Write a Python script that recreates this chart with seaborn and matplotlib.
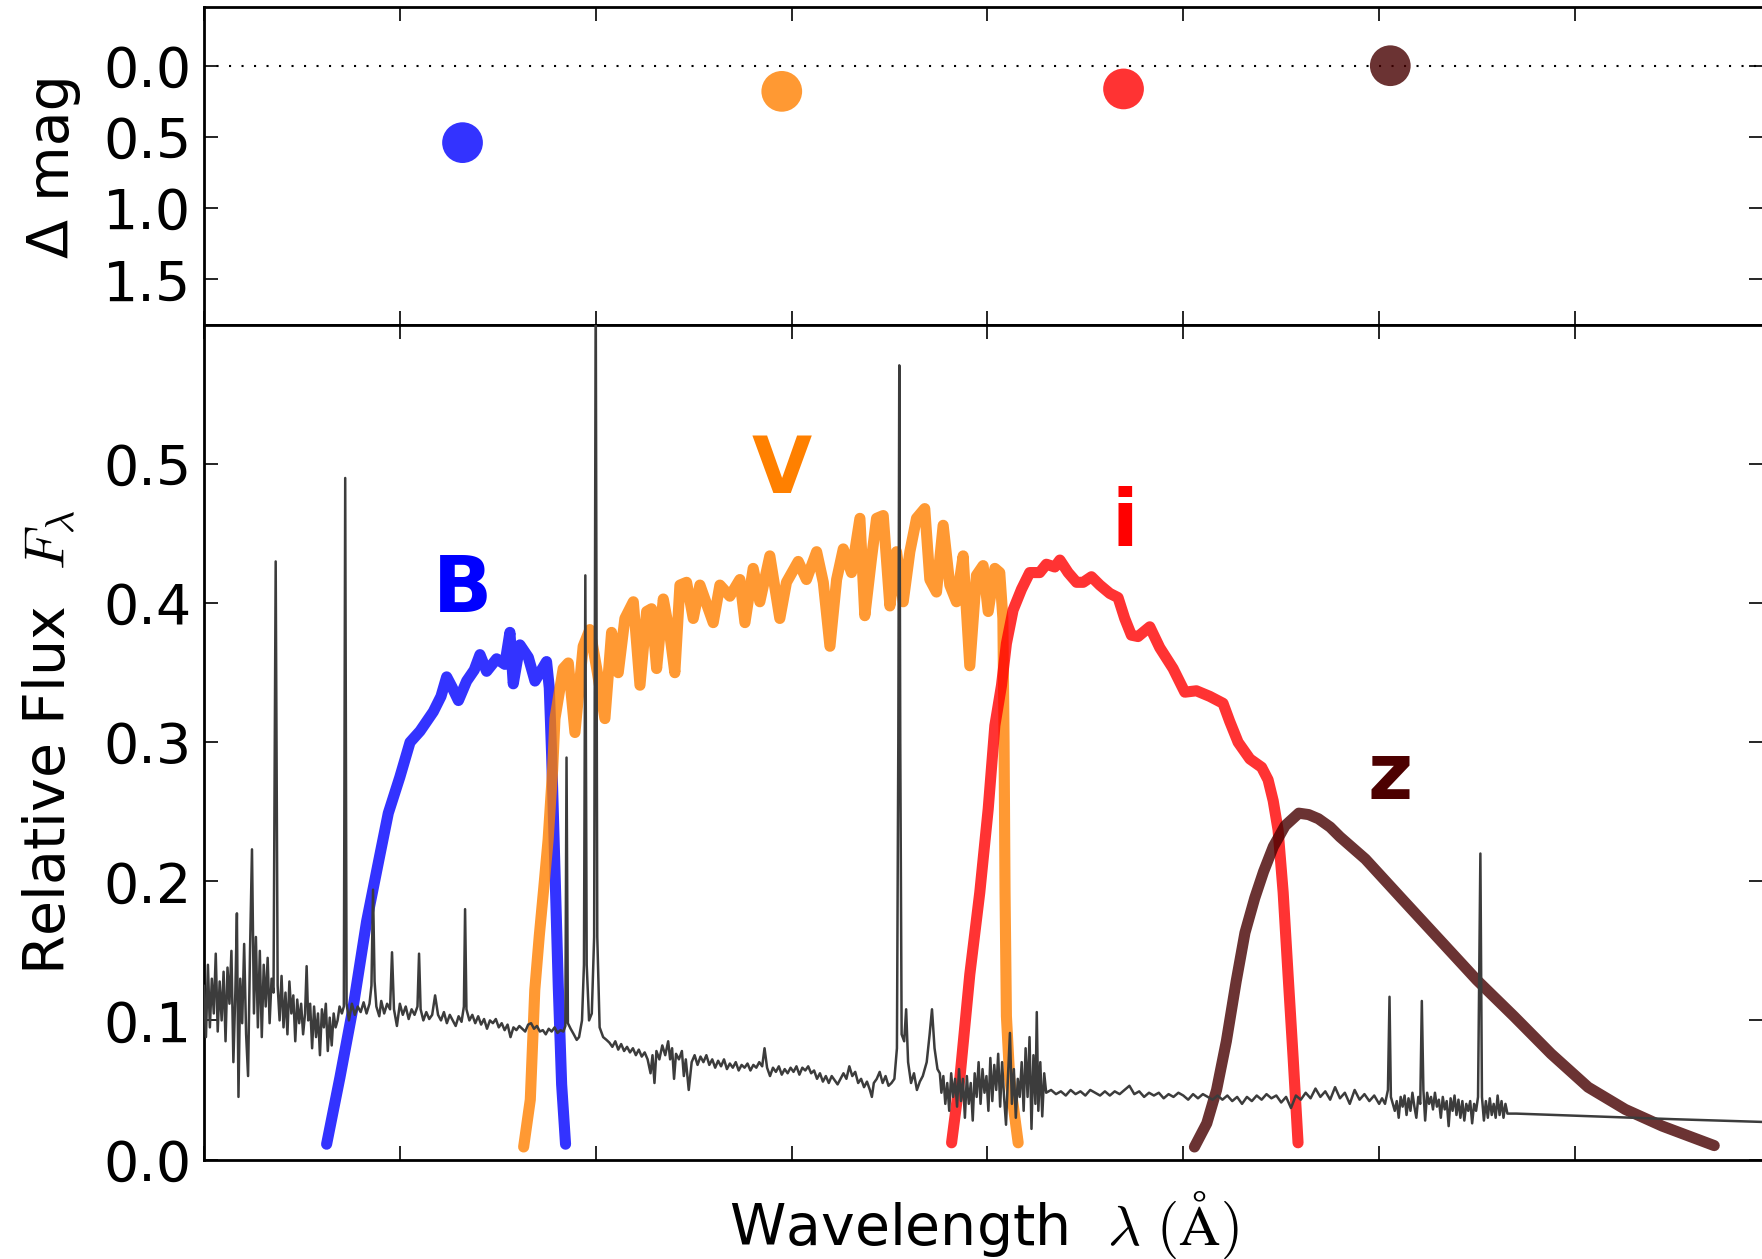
import numpy as np
import pandas as pd
import matplotlib
matplotlib.use("Agg")
import matplotlib.pyplot as plt
from matplotlib.ticker import FormatStrFormatter
import seaborn as sns

# ---------------- data ----------------
bands = ["B", "V", "i", "z"]
band_line_colors = {"B": "#0000ff", "V": "#ff8000", "i": "#ff0000", "z": "#460000"}
band_text_colors = {"B": "#0000ff", "V": "#ff8000", "i": "#ff0000", "z": "#4d0000"}

# top panel: magnitude offsets
mag_wave = [4320, 5950, 7695, 9057]
mag_delta = [0.54, 0.18, 0.163, 0.0]

# filter transmission curves (wavelength, relative flux)
B_wave = [3626, 3694, 3762, 3830, 3898, 3941, 4000, 4052, 4103, 4171, 4210, 4239, 4265, 4299,
          4341, 4380, 4409, 4443, 4494, 4536, 4562, 4579, 4613, 4656, 4690, 4715, 4749, 4763,
          4775, 4792, 4809, 4826, 4846]
B_flux = [0.011, 0.059, 0.110, 0.171, 0.219, 0.249, 0.275, 0.300, 0.308, 0.322, 0.333, 0.347, 0.340, 0.330,
          0.344, 0.352, 0.363, 0.351, 0.360, 0.356, 0.379, 0.342, 0.370, 0.361, 0.344, 0.350, 0.358, 0.339,
          0.291, 0.208, 0.124, 0.054, 0.011]

V_wave = [4632, 4666, 4689, 4712, 4734, 4757, 4780, 4792, 4834, 4860, 4894, 4936, 4970, 5005, 5047,
          5081, 5115, 5149, 5192, 5226, 5260, 5285, 5311, 5345, 5379, 5404, 5430, 5464, 5498, 5532,
          5600, 5634, 5685, 5736, 5762, 5804, 5838, 5889, 5940, 5974, 6034, 6076, 6128, 6162, 6196,
          6230, 6264, 6306, 6349, 6374, 6408, 6434, 6468, 6502, 6536, 6570, 6604, 6638, 6680, 6706,
          6740, 6774, 6808, 6842, 6876, 6910, 6944, 6978, 7004, 7038, 7063, 7079, 7085, 7090, 7097,
          7114, 7157]
V_flux = [0.009, 0.043, 0.122, 0.161, 0.194, 0.230, 0.280, 0.317, 0.353, 0.357, 0.307, 0.369, 0.381, 0.353, 0.317,
          0.379, 0.350, 0.389, 0.401, 0.341, 0.394, 0.396, 0.353, 0.403, 0.377, 0.350, 0.413, 0.415, 0.389, 0.413,
          0.386, 0.413, 0.405, 0.417, 0.386, 0.425, 0.401, 0.434, 0.389, 0.415, 0.430, 0.417, 0.437, 0.415, 0.369,
          0.417, 0.439, 0.422, 0.461, 0.391, 0.432, 0.461, 0.463, 0.398, 0.437, 0.401, 0.437, 0.461, 0.468, 0.417,
          0.408, 0.456, 0.413, 0.401, 0.434, 0.355, 0.420, 0.427, 0.394, 0.425, 0.422, 0.389, 0.300, 0.192, 0.103,
          0.058, 0.012]

i_wave = [6817, 6859, 6910, 6961, 7004, 7038, 7072, 7097, 7131, 7174, 7216, 7267, 7301, 7344, 7370,
          7412, 7455, 7489, 7531, 7574, 7625, 7667, 7701, 7735, 7769, 7829, 7880, 7948, 8008, 8067,
          8135, 8203, 8237, 8280, 8340, 8400, 8433, 8459, 8484, 8510, 8535, 8561, 8586]
i_flux = [0.012, 0.058, 0.133, 0.192, 0.252, 0.312, 0.341, 0.371, 0.395, 0.410, 0.422, 0.422, 0.428, 0.426, 0.431,
          0.422, 0.415, 0.415, 0.419, 0.413, 0.407, 0.404, 0.389, 0.377, 0.376, 0.383, 0.368, 0.353, 0.336, 0.337,
          0.333, 0.328, 0.315, 0.300, 0.288, 0.282, 0.273, 0.258, 0.237, 0.192, 0.133, 0.073, 0.012]

z_wave = [8057, 8120, 8170, 8220, 8270, 8315, 8365, 8410, 8460, 8520, 8590, 8640, 8690, 8750, 8800,
          8930, 9119, 9309, 9499, 9688, 9878, 10067, 10257, 10446, 10711]
z_flux = [0.009, 0.026, 0.050, 0.085, 0.128, 0.163, 0.188, 0.207, 0.225, 0.240, 0.249, 0.248, 0.245, 0.239, 0.232,
          0.216, 0.187, 0.158, 0.129, 0.103, 0.076, 0.052, 0.036, 0.024, 0.010]

spec_uv = [(3000, 0.125), (3010, 0.088), (3020, 0.140), (3030, 0.095), (3040, 0.130), (3050, 0.105),
           (3060, 0.148), (3070, 0.092), (3080, 0.128), (3090, 0.100), (3100, 0.135), (3110, 0.085),
           (3120, 0.138), (3130, 0.112), (3140, 0.150), (3150, 0.070), (3160, 0.120), (3168, 0.177),
           (3176, 0.045), (3185, 0.130), (3195, 0.098), (3205, 0.155), (3215, 0.090), (3225, 0.060),
           (3235, 0.150), (3245, 0.223), (3255, 0.105), (3265, 0.160), (3275, 0.095), (3285, 0.150),
           (3295, 0.088), (3305, 0.140), (3315, 0.110), (3325, 0.145), (3335, 0.098), (3345, 0.130),
           (3355, 0.120), (3366, 0.430), (3376, 0.125), (3386, 0.100), (3396, 0.132), (3406, 0.095),
           (3416, 0.120), (3426, 0.090), (3436, 0.128), (3446, 0.105), (3456, 0.118), (3466, 0.085),
           (3476, 0.115), (3486, 0.098), (3496, 0.112), (3506, 0.090), (3516, 0.105), (3524, 0.139),
           (3532, 0.100), (3542, 0.112), (3552, 0.080), (3562, 0.110), (3572, 0.088), (3582, 0.105),
           (3592, 0.075), (3602, 0.108), (3612, 0.095), (3622, 0.112), (3632, 0.078), (3642, 0.102),
           (3652, 0.082), (3662, 0.105), (3672, 0.095), (3682, 0.100), (3692, 0.110), (3704, 0.105),
           (3714, 0.110), (3721, 0.490), (3728, 0.112)]
spec_blue = [(3740, 0.100), (3755, 0.112), (3770, 0.104), (3785, 0.110), (3800, 0.106), (3815, 0.113),
             (3830, 0.105), (3845, 0.112), (3855, 0.125), (3863, 0.194), (3871, 0.128), (3880, 0.110),
             (3895, 0.103), (3905, 0.114), (3920, 0.105), (3935, 0.112), (3950, 0.108), (3960, 0.149),
             (3970, 0.108), (3985, 0.096), (4000, 0.112), (4015, 0.104), (4030, 0.110), (4045, 0.101),
             (4060, 0.108), (4075, 0.104), (4090, 0.110), (4098, 0.148), (4106, 0.108), (4120, 0.100),
             (4135, 0.106), (4150, 0.101), (4165, 0.104), (4180, 0.118), (4195, 0.104), (4210, 0.100),
             (4225, 0.106), (4240, 0.098), (4255, 0.104), (4270, 0.100), (4285, 0.096), (4300, 0.103),
             (4315, 0.099), (4327, 0.110), (4333, 0.180), (4340, 0.108), (4355, 0.100), (4370, 0.104),
             (4385, 0.098), (4400, 0.103), (4415, 0.097), (4430, 0.101), (4445, 0.094), (4460, 0.100),
             (4475, 0.098), (4490, 0.101), (4505, 0.095), (4520, 0.098), (4535, 0.093), (4550, 0.097),
             (4565, 0.088), (4580, 0.095), (4595, 0.093), (4610, 0.096), (4625, 0.094), (4640, 0.092),
             (4655, 0.097), (4670, 0.098), (4685, 0.094), (4700, 0.096), (4715, 0.092), (4730, 0.093),
             (4745, 0.090), (4760, 0.094), (4775, 0.092), (4790, 0.095), (4805, 0.091), (4820, 0.093),
             (4835, 0.092), (4845, 0.096), (4851, 0.289), (4858, 0.098), (4872, 0.094), (4888, 0.090),
             (4903, 0.086), (4915, 0.088), (4930, 0.100), (4940, 0.140), (4947, 0.420), (4954, 0.140),
             (4966, 0.100), (4980, 0.105), (4992, 0.160), (5000, 0.630), (5008, 0.160), (5020, 0.095),
             (5038, 0.088), (5055, 0.086)]
spec_green = [(5070, 0.084), (5085, 0.081), (5100, 0.085), (5115, 0.079), (5130, 0.083), (5145, 0.078),
              (5160, 0.081), (5175, 0.077), (5190, 0.080), (5205, 0.075), (5220, 0.079), (5235, 0.074),
              (5250, 0.077), (5265, 0.072), (5280, 0.062), (5290, 0.075), (5300, 0.055), (5310, 0.078),
              (5325, 0.072), (5340, 0.082), (5355, 0.075), (5370, 0.085), (5380, 0.072), (5390, 0.080),
              (5400, 0.058), (5410, 0.076), (5425, 0.072), (5440, 0.078), (5450, 0.060), (5460, 0.072),
              (5475, 0.050), (5490, 0.070), (5505, 0.075), (5520, 0.068), (5535, 0.074), (5550, 0.070),
              (5565, 0.075), (5580, 0.068), (5595, 0.072), (5610, 0.066), (5625, 0.071), (5640, 0.067),
              (5655, 0.072), (5670, 0.065), (5685, 0.069), (5700, 0.066), (5715, 0.070), (5730, 0.064),
              (5745, 0.068), (5760, 0.066), (5775, 0.069), (5790, 0.064), (5805, 0.068), (5820, 0.066),
              (5835, 0.070), (5850, 0.067), (5862, 0.080), (5875, 0.066), (5890, 0.060), (5905, 0.066),
              (5920, 0.063), (5935, 0.067), (5950, 0.061), (5965, 0.065), (5980, 0.062), (5995, 0.066),
              (6010, 0.063), (6025, 0.067), (6040, 0.061), (6055, 0.066), (6070, 0.064), (6085, 0.067),
              (6100, 0.062), (6115, 0.064), (6130, 0.058), (6145, 0.062), (6160, 0.056), (6175, 0.060),
              (6190, 0.055), (6205, 0.060), (6220, 0.057), (6235, 0.054), (6250, 0.058), (6265, 0.062),
              (6280, 0.058), (6295, 0.067), (6310, 0.060), (6325, 0.063), (6340, 0.055), (6355, 0.058),
              (6370, 0.052), (6385, 0.056), (6400, 0.050), (6410, 0.045), (6420, 0.055), (6435, 0.058),
              (6450, 0.063), (6465, 0.055), (6480, 0.060), (6495, 0.053), (6510, 0.055), (6525, 0.058),
              (6538, 0.080), (6545, 0.300), (6550, 0.571), (6555, 0.300), (6562, 0.090), (6575, 0.085),
              (6585, 0.108), (6595, 0.070), (6610, 0.055), (6625, 0.062), (6640, 0.050), (6655, 0.056),
              (6670, 0.060), (6690, 0.070), (6705, 0.090), (6717, 0.108), (6730, 0.080), (6745, 0.065),
              (6757, 0.062)]
spec_red = [(6765, 0.048), (6775, 0.060), (6785, 0.040), (6795, 0.055), (6805, 0.035), (6815, 0.062),
            (6825, 0.045), (6835, 0.058), (6845, 0.038), (6855, 0.065), (6865, 0.042), (6875, 0.058),
            (6885, 0.030), (6895, 0.060), (6905, 0.040), (6915, 0.055), (6925, 0.028), (6935, 0.062),
            (6945, 0.045), (6955, 0.070), (6965, 0.040), (6975, 0.065), (6985, 0.048), (6995, 0.060),
            (7005, 0.035), (7015, 0.073), (7025, 0.042), (7035, 0.068), (7045, 0.050), (7055, 0.076),
            (7065, 0.038), (7075, 0.070), (7085, 0.045), (7095, 0.025), (7105, 0.060), (7115, 0.091),
            (7125, 0.040), (7135, 0.065), (7145, 0.030), (7155, 0.058), (7165, 0.045), (7175, 0.070),
            (7185, 0.035), (7195, 0.080), (7205, 0.045), (7215, 0.088), (7225, 0.022), (7235, 0.075),
            (7245, 0.040), (7252, 0.106), (7260, 0.035), (7270, 0.070), (7280, 0.031), (7290, 0.062),
            (7300, 0.048)]
spec_nir = [(7325, 0.050), (7350, 0.047), (7375, 0.049), (7400, 0.046), (7425, 0.050), (7450, 0.047),
            (7475, 0.049), (7500, 0.046), (7525, 0.050), (7550, 0.048), (7575, 0.046), (7600, 0.049),
            (7625, 0.046), (7650, 0.049), (7675, 0.047), (7700, 0.050), (7725, 0.053), (7750, 0.047),
            (7775, 0.049), (7800, 0.045), (7825, 0.048), (7850, 0.046), (7875, 0.048), (7900, 0.044),
            (7925, 0.047), (7950, 0.045), (7975, 0.048), (8000, 0.046), (8025, 0.043), (8050, 0.047),
            (8075, 0.044), (8100, 0.047), (8125, 0.045), (8150, 0.043), (8175, 0.046), (8200, 0.043),
            (8225, 0.046), (8250, 0.042), (8275, 0.045), (8300, 0.040), (8325, 0.045), (8350, 0.042),
            (8375, 0.046), (8400, 0.043), (8425, 0.047), (8450, 0.044), (8475, 0.046), (8500, 0.041),
            (8525, 0.045), (8550, 0.037), (8575, 0.046), (8600, 0.043), (8625, 0.048), (8650, 0.044),
            (8675, 0.051), (8700, 0.045), (8725, 0.049), (8750, 0.043), (8775, 0.052), (8800, 0.044),
            (8825, 0.048), (8850, 0.040), (8875, 0.050), (8900, 0.043), (8925, 0.047), (8950, 0.042),
            (8975, 0.046), (9000, 0.040), (9015, 0.044), (9030, 0.040), (9045, 0.050), (9053, 0.117),
            (9060, 0.045), (9070, 0.040), (9080, 0.035), (9090, 0.042), (9100, 0.030), (9110, 0.045),
            (9120, 0.038), (9130, 0.046), (9140, 0.032), (9150, 0.044), (9160, 0.035), (9170, 0.048),
            (9180, 0.038), (9190, 0.030), (9200, 0.045), (9210, 0.040), (9218, 0.114), (9226, 0.050),
            (9235, 0.028), (9245, 0.048), (9255, 0.040), (9265, 0.045), (9275, 0.036), (9285, 0.048),
            (9295, 0.038), (9305, 0.043), (9315, 0.030), (9325, 0.045), (9335, 0.036), (9345, 0.042),
            (9355, 0.024), (9365, 0.044), (9375, 0.035), (9385, 0.046), (9395, 0.032), (9405, 0.043),
            (9415, 0.030), (9425, 0.042), (9435, 0.028), (9445, 0.040), (9455, 0.035), (9465, 0.042),
            (9475, 0.026), (9485, 0.040), (9495, 0.035), (9505, 0.045), (9517, 0.220), (9525, 0.045),
            (9535, 0.028), (9545, 0.042), (9555, 0.030), (9565, 0.044), (9575, 0.032), (9585, 0.040),
            (9595, 0.030), (9605, 0.046), (9615, 0.032), (9625, 0.042), (9635, 0.030), (9645, 0.040),
            (9655, 0.033)]
spec_tail = [(9700, 0.0330), (10000, 0.0315), (10500, 0.0290), (10960, 0.0270)]

# label positions (wavelength, flux baseline)
label_wave = [4320, 5949, 7700, 9057]
label_flux = [0.394, 0.479, 0.441, 0.259]

# axis settings
x_limits = (3000, 10960)
x_tick_values = [3000, 4000, 5000, 6000, 7000, 8000, 9000, 10000]
top_ylim = (1.82, -0.41)
top_yticks = [0.0, 0.5, 1.0, 1.5]
bot_ylim = (0.0, 0.6)
bot_yticks = [0.0, 0.1, 0.2, 0.3, 0.4, 0.5]

# ---------------- style ----------------
sns.set_theme(style="ticks")
plt.rcParams["font.family"] = ["DejaVu Sans"]
plt.rcParams["mathtext.fontset"] = "cm"
plt.rcParams["axes.edgecolor"] = "black"
plt.rcParams["text.color"] = "black"
plt.rcParams["axes.labelcolor"] = "black"
plt.rcParams["xtick.color"] = "black"
plt.rcParams["ytick.color"] = "black"

W, H = 1762, 1259
fig = plt.figure(figsize=(W / 100, H / 100), dpi=100)
fig.patch.set_facecolor("white")
left = 204 / W
width = (1763 - 204) / W
ax_top = fig.add_axes([left, (H - 325) / H, width, (325 - 7.3) / H])
ax_bot = fig.add_axes([left, (H - 1159.5) / H, width, (1159.5 - 325) / H])

# ---------------- top panel ----------------
top_df = pd.DataFrame({"wave": mag_wave, "dmag": mag_delta, "band": bands})
sns.scatterplot(data=top_df, x="wave", y="dmag", hue="band", palette=band_line_colors,
                s=860, alpha=0.8, linewidth=0, legend=False, ax=ax_top, zorder=3)
ax_top.axhline(0.0, color="black", lw=1.5, linestyle=(0, (1, 5)), zorder=2)
ax_top.set_xlim(*x_limits)
ax_top.set_ylim(*top_ylim)
ax_top.set_yticks(top_yticks)
ax_top.yaxis.set_major_formatter(FormatStrFormatter("%.1f"))
ax_top.set_xticks(x_tick_values)
ax_top.set_xticklabels([])
ax_top.set_xlabel("")
ax_top.set_ylabel("Δ mag", fontsize=41)
ax_top.yaxis.set_label_coords(-0.079, 0.5)

# ---------------- bottom panel ----------------
filt_df = pd.concat([
    pd.DataFrame({"wave": B_wave, "flux": B_flux, "band": "B"}),
    pd.DataFrame({"wave": V_wave, "flux": V_flux, "band": "V"}),
    pd.DataFrame({"wave": i_wave, "flux": i_flux, "band": "i"}),
    pd.DataFrame({"wave": z_wave, "flux": z_flux, "band": "z"}),
], ignore_index=True)
sns.lineplot(data=filt_df, x="wave", y="flux", hue="band", palette=band_line_colors,
             estimator=None, sort=False, linewidth=8, alpha=0.8, legend=False, ax=ax_bot, zorder=2)

spec = spec_uv + spec_blue + spec_green + spec_red + spec_nir + spec_tail
spec_df = pd.DataFrame(spec, columns=["wave", "flux"])
sns.lineplot(data=spec_df, x="wave", y="flux", color="#3c3c3c", linewidth=1.8,
             estimator=None, sort=False, ax=ax_bot, zorder=3)

for b, lw_, lf in zip(bands, label_wave, label_flux):
    ax_bot.text(lw_, lf, b, color=band_text_colors[b], fontsize=56, fontweight="bold",
                ha="center", va="baseline", zorder=4)

ax_bot.set_xlim(*x_limits)
ax_bot.set_ylim(*bot_ylim)
ax_bot.set_yticks(bot_yticks)
ax_bot.yaxis.set_major_formatter(FormatStrFormatter("%.1f"))
ax_bot.set_xticks(x_tick_values)
ax_bot.set_xticklabels([])
ax_bot.set_ylabel(r"Relative Flux  $F_\lambda$", fontsize=41)
ax_bot.yaxis.set_label_coords(-0.081, 0.5)
ax_bot.set_xlabel(r"Wavelength  $\lambda\ (\mathrm{\AA})$", fontsize=41)
ax_bot.xaxis.label.set_va("baseline")
ax_bot.xaxis.set_label_coords(0.5, -(1245 - 1159.5) / (1159.5 - 325))

for ax in (ax_top, ax_bot):
    ax.tick_params(axis="both", which="major", direction="in", length=10, width=1.2,
                   top=True, right=True, labelsize=40, pad=9)
    for sp in ax.spines.values():
        sp.set_linewidth(2.0)
        sp.set_color("black")
    ax.set_facecolor("white")

fig.savefig("out.png", dpi=100, facecolor="white")
